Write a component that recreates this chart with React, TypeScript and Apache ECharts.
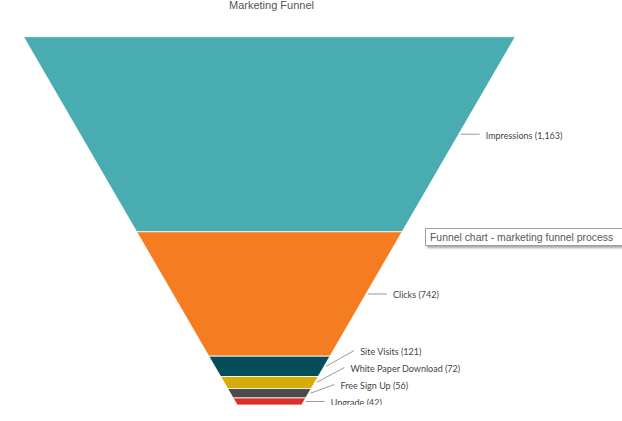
import React, { useEffect, useRef } from "react";
import * as echarts from "echarts";

const stages = ["Impressions", "Clicks", "Site Visits", "White Paper Download", "Free Sign Up", "Upgrade"];
const values = [1163, 742, 121, 72, 56, 42];
const colors = ["#49ACB1", "#F47D22", "#044D5A", "#D5AD05", "#4B4B4D", "#DE2F28"];
const titleText = "Marketing Funnel";
const noteText = "Funnel chart - marketing funnel process";

const NECK = 0.131;
const LABEL_GAP = 17;

export default function App() {
  const ref = useRef<HTMLDivElement>(null);
  useEffect(() => {
    if (!ref.current) return;
    const chart = echarts.init(ref.current, null, { renderer: "svg" });
    const total = values.reduce((a, b) => a + b, 0);
    const starts: number[] = [];
    let acc = 0;
    values.forEach((v) => {
      starts.push(acc);
      acc += v;
    });
    const hw = (c: number) => 1 - (1 - NECK) * (c / total);

    const renderItem = (params: any, api: any) => {
      const i = api.value(0);
      const s = starts[i];
      const e = s + values[i];
      const p1 = api.coord([-hw(s), s]);
      const p2 = api.coord([hw(s), s]);
      const p3 = api.coord([hw(e), e]);
      const p4 = api.coord([-hw(e), e]);
      const pTop = api.coord([1, 0]);
      const pBot = api.coord([NECK, total]);
      const edge = (y: number) => pTop[0] + ((pBot[0] - pTop[0]) * (y - pTop[1])) / (pBot[1] - pTop[1]);
      const mids = values.map((v, k) => (api.coord([0, starts[k]])[1] + api.coord([0, starts[k] + v])[1]) / 2);
      const ys: number[] = new Array(values.length);
      for (let k = values.length - 1; k >= 0; k--) {
        ys[k] = k === values.length - 1 ? mids[k] : Math.min(mids[k], ys[k + 1] - LABEL_GAP);
      }
      const mid = mids[i];
      const ly = ys[i];
      const label = `${stages[i]} (${values[i].toLocaleString("en-US")})`;
      return {
        type: "group",
        children: [
          {
            type: "polygon",
            shape: { points: [p1, p2, p3, p4] },
            style: { fill: colors[i], stroke: "#ffffff", lineWidth: 0.8 },
          },
          {
            type: "polyline",
            shape: { points: [[edge(mid) + 2, mid], [edge(ly) + 21, ly]] },
            style: { stroke: "#9a9a9a", lineWidth: 1, fill: null },
          },
          {
            type: "text",
            x: edge(ly) + 27,
            y: ly + 1,
            style: {
              text: label,
              fill: "#444444",
              font: "9px Lato",
              textAlign: "left",
              textVerticalAlign: "middle",
            },
          },
        ],
      };
    };

    chart.setOption({
      animation: false,
      title: {
        text: titleText,
        left: 229,
        top: -1,
        padding: 0,
        textStyle: { fontSize: 11, fontWeight: "normal", color: "#555555", fontFamily: "Liberation Sans" },
      },
      grid: { left: 23.5, right: 106.7, top: 36.7, bottom: 0 },
      xAxis: { type: "value", min: -1, max: 1, show: false },
      yAxis: { type: "value", min: 0, max: total, inverse: true, show: false },
      series: [
        {
          type: "custom",
          renderItem,
          clip: false,
          data: values.map((_, k) => [k]),
        },
      ],
      graphic: [
        {
          type: "rect",
          shape: { x: 425.5, y: 228.5, width: 205, height: 17 },
          style: {
            fill: "#ffffff",
            stroke: "#a0a0a0",
            lineWidth: 1,
            shadowBlur: 2,
            shadowOffsetX: 2,
            shadowOffsetY: 2,
            shadowColor: "rgba(0,0,0,0.35)",
          },
          z: 100,
        },
        {
          type: "text",
          x: 430,
          y: 237.5,
          style: {
            text: noteText,
            fill: "#575757",
            font: "10.4px 'Liberation Sans'",
            textVerticalAlign: "middle",
          },
          z: 101,
        },
      ],
    });
    return () => chart.dispose();
  }, []);
  return (
    <div
      ref={ref}
      style={{ position: "absolute", left: 0, top: 0, width: 622, height: 405, overflow: "hidden" }}
    />
  );
}
